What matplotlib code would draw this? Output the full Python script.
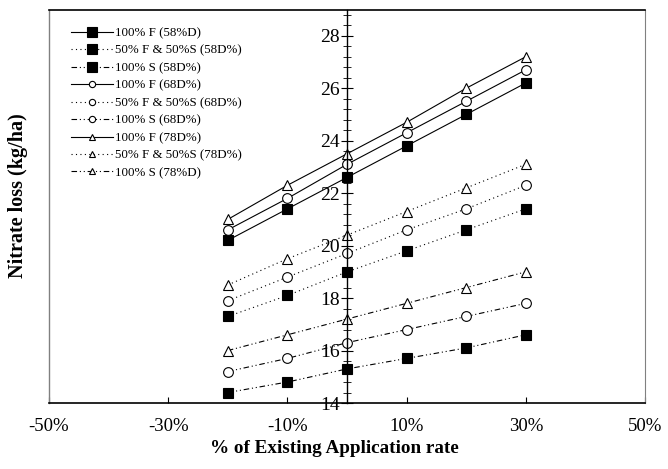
import matplotlib
matplotlib.use('Agg')
import matplotlib.pyplot as plt
import numpy as np

plt.rcParams['font.family'] = 'Liberation Serif'

# % change in application rate
x_rate = [-20, -10, 0, 10, 20, 30]

# nitrate loss (kg/ha)
f100_58 = [20.2, 21.4, 22.6, 23.8, 25.0, 26.2]
fs50_58 = [17.3, 18.1, 19.0, 19.8, 20.6, 21.4]
s100_58 = [14.4, 14.8, 15.3, 15.7, 16.1, 16.6]
f100_68 = [20.6, 21.8, 23.1, 24.3, 25.5, 26.7]
fs50_68 = [17.9, 18.8, 19.7, 20.6, 21.4, 22.3]
s100_68 = [15.2, 15.7, 16.3, 16.8, 17.3, 17.8]
f100_78 = [21.0, 22.3, 23.5, 24.7, 26.0, 27.2]
fs50_78 = [18.5, 19.5, 20.4, 21.3, 22.2, 23.1]
s100_78 = [16.0, 16.6, 17.2, 17.8, 18.4, 19.0]

labels = ['100% F (58%D)', '50% F & 50%S (58D%)', '100% S (58D%)',
          '100% F (68D%)', '50% F & 50%S (68D%)', '100% S (68D%)',
          '100% F (78D%)', '50% F & 50%S (78D%)', '100% S (78%D)']
series = [f100_58, fs50_58, s100_58, f100_68, fs50_68, s100_68,
          f100_78, fs50_78, s100_78]

x_ticks = [-50, -30, -10, 10, 30, 50]
x_ticklabels = ['-50%', '-30%', '-10%', '10%', '30%', '50%']
y_ticks = [14, 16, 18, 20, 22, 24, 26, 28]

styles = ['-', (0, (1, 3)), (0, (5, 2.5, 1, 2.5, 1, 2.5))]
markers = ['s', 'o', '^']

fig = plt.figure(figsize=(6.68, 4.69), dpi=100)
ax = fig.add_axes([0.0734, 0.1407, 0.8922, 0.839])

handles = []
for i, (vals, lab) in enumerate(zip(series, labels)):
    mk = markers[i // 3]
    ls = styles[i % 3]
    filled = mk == 's'
    h, = ax.plot(x_rate, vals, linestyle=ls, color='black', linewidth=0.8,
                 marker=mk, markersize=7,
                 markerfacecolor='black' if filled else 'white',
                 markeredgecolor='black', markeredgewidth=0.8, label=lab)
    handles.append(h)

ax.set_xlim(-50, 50)
ax.set_ylim(14, 29)

# y axis sits at x = 0
ax.spines['left'].set_position(('data', 0))
ax.spines['left'].set_linewidth(1.0)
ax.spines['right'].set_color('gray')
ax.spines['bottom'].set_linewidth(1.2)
ax.spines['top'].set_linewidth(1.2)
ax.plot([0, 0], [0, 1], transform=ax.transAxes, color='gray',
        linewidth=1.0, clip_on=False)

ax.set_xticks(x_ticks)
ax.set_xticklabels(x_ticklabels)
ax.set_yticks(y_ticks)
ax.set_yticks(np.arange(14, 29.01, 0.4), minor=True)
ax.tick_params(axis='x', direction='in', length=4, labelsize=13.5, pad=11)
ax.tick_params(axis='y', which='major', direction='inout', length=9,
               labelsize=14, pad=1)
ax.tick_params(axis='y', which='minor', direction='inout', length=6)
ax.tick_params(right=False, top=False)

fig.text(0.5, 0.043, '% of Existing Application rate', ha='center',
         va='center', fontsize=13.8, fontweight='bold')
fig.text(0.027, 0.582, 'Nitrate loss (kg/ha)', ha='center', va='center',
         rotation=90, fontsize=14.5, fontweight='bold')

leg = ax.legend(handles=handles, loc='upper left',
                bbox_to_anchor=(0.106, 0.942), bbox_transform=fig.transFigure,
                frameon=False, fontsize=9.3, handlelength=3.3,
                handletextpad=0.15, labelspacing=0.42, borderaxespad=0,
                borderpad=0)
for i, lh in enumerate(leg.legend_handles):
    lh.set_markersize(7 if i < 3 else 4.5)

fig.savefig('out.png', dpi=100)
